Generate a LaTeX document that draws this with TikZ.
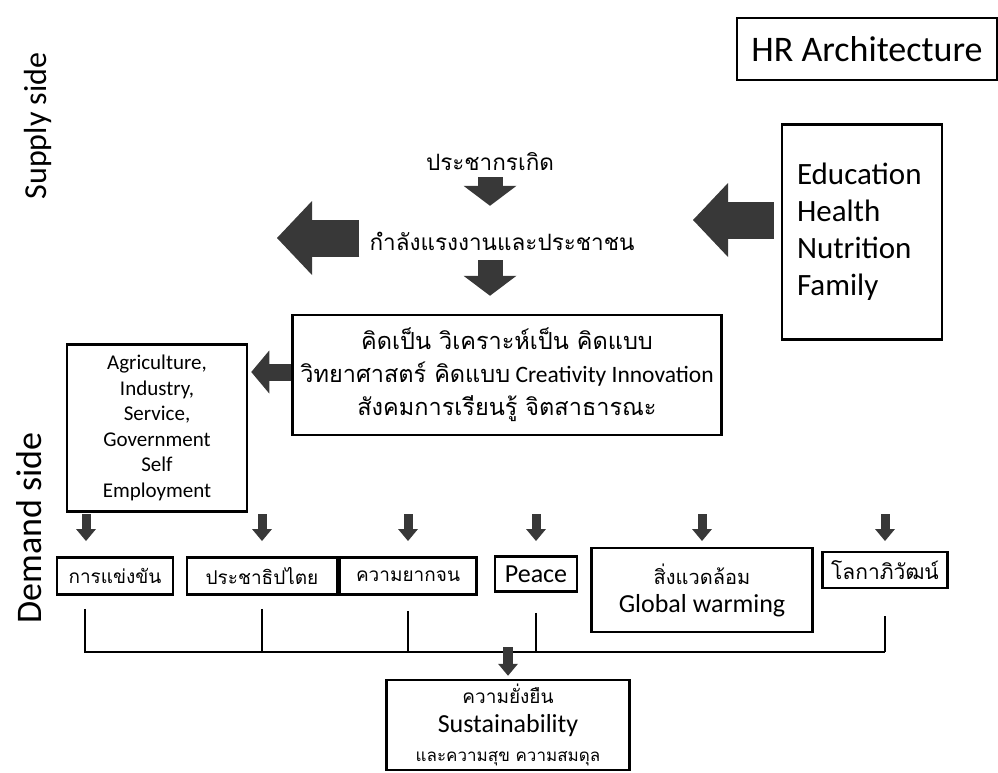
\documentclass[tikz,border=0pt]{standalone}
\usepackage{fontspec}
\setmainfont{Carlito}
\newfontfamily\thai[Script=Thai]{Loma}
\usetikzlibrary{arrows.meta,positioning,calc}

\tikzset{
  box/.style={draw, line width=2.5pt, align=center, inner sep=0pt},
  txt/.style={inner sep=0pt, minimum height=30pt},
  bigarrow/.style={draw=black!78, line width=37pt,
    -{Triangle[length=35pt 0 0, width=74pt 0 0, line width=0pt 0 0]}},
  midarrow/.style={draw=black!78, line width=25pt,
    -{Triangle[length=20pt 0 0, width=53pt 0 0, line width=0pt 0 0]}},
  sidearrow/.style={draw=black!78, line width=17pt,
    -{Triangle[length=18pt 0 0, width=43pt 0 0, line width=0pt 0 0]}},
  smallarrow/.style={draw=black!78, line width=9pt,
    -{Triangle[length=12pt 0 0, width=20pt 0 0, line width=0pt 0 0]}},
  tick/.style={line width=1.8pt},
  sidelabel/.style={rotate=90},
}

\begin{document}
\begin{tikzpicture}[x=1pt, y=-1pt]
\useasboundingbox (0,0) rectangle (998,773);

% title and side labels
\node[box, minimum width=260pt, minimum height=62pt, font=\fontsize{36}{36}\selectfont] (hr) at (867,49) {HR Architecture};
\node[sidelabel, font=\fontsize{32}{32}\selectfont] (supply) at (38,126) {Supply side};
\node[sidelabel, font=\fontsize{36}{36}\selectfont] (demand) at (29,528) {Demand side};

% supply side
\node[txt, font=\thai\fontsize{22.5}{22.5}\selectfont] (born) at (490,162) {ประชากรเกิด};
\node[txt, font=\thai\fontsize{22.5}{22.5}\selectfont] (labor) at (502,241) {กำลังแรงงานและประชาชน};
\node[box, minimum width=160pt, minimum height=215pt, text width=130pt, align=left,
      font=\fontsize{31}{37}\selectfont] (inputs) at (862,232) {Education\\Health\\Nutrition\\Family};
\node[box, minimum width=429pt, minimum height=120pt, font=\fontsize{23.5}{33}\selectfont] (mind) at (507,375)
  {{\thai คิดเป็น วิเคราะห์เป็น คิดแบบ}\\{\thai วิทยาศาสตร์ คิดแบบ} Creativity Innovation\\{\thai สังคมการเรียนรู้ จิตสาธารณะ}};
\node[box, minimum width=180pt, minimum height=167pt, font=\fontsize{21}{25.5}\selectfont] (sector) at (157,428)
  {Agriculture,\\Industry,\\Service,\\Government\\Self\\Employment};

\coordinate (outtip) at (277,238);
\coordinate (hrtip) at (693,220);
\draw[midarrow, shorten >=20pt] (born.south) -- (born.south |- labor.north);
\draw[midarrow, shorten <=4pt, shorten >=18pt] (born.south |- labor.south) -- (born.south |- mind.north);
\draw[bigarrow, shorten <=10pt] (labor.west |- outtip) -- (outtip);
\draw[bigarrow, shorten <=7pt] (inputs.west |- hrtip) -- (hrtip);
\draw[sidearrow, shorten >=3pt] ([yshift=3pt]mind.west) -- ([yshift=3pt]mind.west -| sector.east);

% demand side
\node[box, minimum width=116pt, minimum height=37pt, font=\thai\fontsize{19}{19}\selectfont] (b1) at (115,576) {การแข่งขัน};
\node[box, minimum width=150pt, minimum height=37pt, font=\thai\fontsize{19}{19}\selectfont] (b2) at (262,576) {ประชาธิปไตย};
\node[box, minimum width=137pt, minimum height=37pt, font=\thai\fontsize{19}{19}\selectfont] (b3) at (408,576) {ความยากจน};
\node[box, minimum width=82pt, minimum height=35pt, font=\fontsize{26}{26}\selectfont] (b4) at (536,574) {Peace};
\node[box, minimum width=221pt, minimum height=84pt, font=\fontsize{26}{28}\selectfont] (b5) at (702,590)
  {{\thai\fontsize{20}{20}\selectfont สิ่งแวดล้อม}\\Global warming};
\node[box, minimum width=125pt, minimum height=36pt, font=\thai\fontsize{21}{21}\selectfont] (b6) at (885,570) {โลกาภิวัฒน์};
\node[box, minimum width=243pt, minimum height=90pt, font=\fontsize{26}{29}\selectfont] (sust) at (508,725)
  {{\thai\fontsize{19}{19}\selectfont ความยั่งยืน}\\Sustainability\\{\thai\fontsize{17}{17}\selectfont และความสุข ความสมดุล}};

\coordinate (rowtop) at (0,514);
\coordinate (rowtip) at (0,541);
\coordinate (bus) at (0,652);
\draw[smallarrow] ([xshift=-29pt]b1.north |- rowtop) -- ([xshift=-29pt]b1.north |- rowtip);
\foreach \b in {b2,b3,b4,b5,b6}
  \draw[smallarrow] (\b.north |- rowtop) -- (\b.north |- rowtip);

\draw[tick] ([xshift=-30pt,yshift=-13pt]b1.south) -- ([xshift=-30pt]b1.south |- bus) -- (b6.south |- bus);
\foreach \b/\g in {b2/13,b3/15,b4/20,b6/27}
  \draw[tick] ([yshift=-\g pt]\b.south) -- (\b.south |- bus);
\draw[smallarrow, line width=10pt, shorten >=3pt] (sust.north |- 0,647) -- (sust.north);
\end{tikzpicture}
\end{document}
